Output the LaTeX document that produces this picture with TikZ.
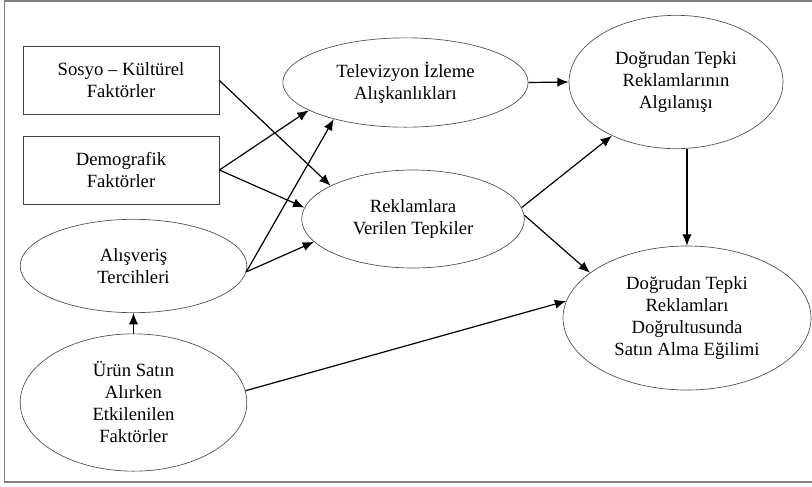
\documentclass[tikz,border=0pt]{standalone}
\usepackage{fontspec}
\setmainfont{Liberation Serif}
\usetikzlibrary{arrows.meta,shapes.geometric}

\begin{document}
\begin{tikzpicture}[x=0.75pt, y=-0.75pt, >={Latex[length=8.5pt,width=7pt]},
    every node/.style={font=\fontsize{14}{16.5}\selectfont, align=center},
    box/.style={draw=black!75, line width=0.6pt, minimum width=147pt, minimum height=51pt},
    oval/.style={ellipse, draw=black!70, line width=0.5pt, inner sep=0pt},
    link/.style={->, line width=0.9pt}]
      \useasboundingbox (0,0) rectangle (812,486);
      \draw[black!50, line width=1.1pt] (830,1) -- (4.5,1) -- (4.5,482) -- (830,482);
      % left column
      \node[box] (soc) at (121,80.5) {Sosyo – Kültürel\\Faktörler};
      \node[box] (demo) at (121,170) {Demografik\\Faktörler};
      \node[oval, minimum width=170pt, minimum height=70pt] (shop) at (133.5,266) {Alışveriş\\Tercihleri};
      \node[oval, minimum width=170pt, minimum height=103pt] (buy) at (133.5,402.5) {Ürün Satın\\Alırken\\Etkilenilen\\Faktörler};
      % middle column
      \node[oval, minimum width=184pt, minimum height=67pt] (tv) at (405.5,82.5) {Televizyon İzleme\\Alışkanlıkları};
      \node[oval, minimum width=167pt, minimum height=73.5pt] (resp) at (413,219) {Reklamlara\\Verilen Tepkiler};
      % right column
      \node[oval, minimum width=160.5pt, minimum height=100pt] (perc) at (676,82) {Doğrudan Tepki\\Reklamlarının\\Algılanışı};
      \node[oval, minimum width=186pt, minimum height=108pt] (intent) at (687,318) {Doğrudan Tepki\\Reklamları\\Doğrultusunda\\Satın Alma Eğilimi};
      % connectors
      \draw[link] (soc.east) -- (resp.158);
      \draw[link] (demo.east) -- (tv.196);
      \draw[link] (demo.east) -- (resp.174);
      \draw[link] (shop.-3) -- (tv.207);
      \draw[link] (shop.-3) -- (resp.193);
      \draw[link] (buy.north) -- (shop.south);
      \draw[link] (buy.6) -- (intent.172);
      \draw[link] (tv.east) -- (perc.west);
      \draw[link] (resp.6) -- (perc.220);
      \draw[link] (resp.2) -- (intent.155);
      \draw[link] (perc.south -| intent.north) -- (intent.north);
\end{tikzpicture}
\end{document}
